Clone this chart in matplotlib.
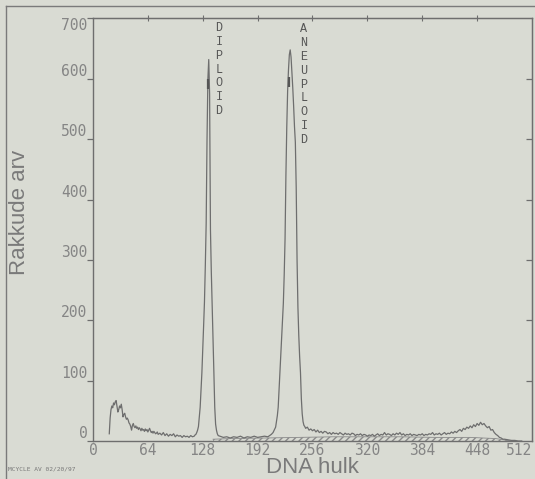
import matplotlib.pyplot as plt
from matplotlib.lines import Line2D

# DNA histogram: channel -> cell count
channels = [19, 20, 21, 22, 23, 24, 25, 26, 27, 28, 29, 30, 31, 32, 33, 34, 35, 36, 37, 38,
            39, 40, 41, 42, 43, 44, 45, 46, 47, 48, 49, 50, 51, 52, 53, 54, 55, 56, 57, 58,
            59, 60, 61, 62, 63, 64, 65, 66, 67, 68, 69, 70, 71, 72, 73, 74, 75, 76, 78, 80,
            82, 84, 86, 88, 90, 92, 94, 96, 98, 100, 102, 104, 106, 108, 110, 112, 114, 116, 118, 119,
            120, 121, 122, 123, 124, 125, 126, 127, 128, 129, 130, 131, 132, 133, 134, 135, 136, 137, 138, 139,
            140, 141, 142, 143, 144, 145, 146, 148, 152, 156, 160, 164, 168, 172, 176, 180, 184, 188, 192, 196,
            200, 204, 206, 208, 210, 211, 212, 213, 214, 215, 216, 217, 218, 219, 220, 221, 222, 223, 224, 225,
            226, 227, 228, 229, 230, 231, 232, 233, 234, 235, 236, 237, 238, 239, 240, 241, 242, 243, 244, 245,
            246, 247, 248, 250, 252, 254, 256, 258, 260, 262, 264, 266, 268, 270, 272, 274, 276, 278, 280, 282,
            284, 286, 288, 290, 292, 294, 296, 298, 300, 302, 304, 306, 308, 310, 312, 314, 316, 318, 320, 322,
            324, 326, 328, 330, 332, 334, 336, 338, 340, 342, 344, 346, 348, 350, 352, 354, 356, 358, 360, 362,
            364, 366, 368, 370, 372, 374, 376, 378, 380, 382, 384, 386, 388, 390, 392, 394, 396, 398, 400, 402,
            404, 406, 408, 410, 412, 414, 416, 418, 420, 422, 424, 426, 428, 430, 432, 434, 436, 438, 440, 442,
            444, 446, 448, 450, 452, 454, 456, 458, 460, 462, 464, 466, 468, 470, 472, 474, 476, 478, 480, 484,
            488, 492, 496, 500]
counts = [12, 38, 52, 58, 55, 63, 60, 65, 67, 58, 48, 52, 58, 55, 61, 52, 40, 44, 46, 40,
          36, 38, 35, 30, 28, 24, 18, 26, 29, 24, 22, 25, 21, 23, 19, 22, 20, 17, 21, 18,
          19, 16, 20, 17, 19, 15, 18, 21, 17, 14, 16, 13, 16, 14, 12, 13, 15, 11, 13, 10,
          14, 9, 12, 8, 11, 9, 12, 7, 10, 8, 9, 6, 9, 7, 8, 6, 9, 7, 8, 10,
          11, 14, 18, 24, 40, 56, 85, 113, 150, 190, 230, 290, 360, 500, 600, 632, 575, 350, 280, 222,
          168, 113, 56, 28, 18, 12, 9, 8, 6, 7, 5, 7, 6, 8, 5, 7, 6, 8, 6, 7,
          8, 7, 9, 11, 14, 17, 20, 23, 32, 42, 56, 85, 113, 140, 170, 198, 228, 275, 335, 440,
          520, 580, 615, 640, 648, 636, 612, 585, 555, 521, 495, 420, 300, 222, 175, 140, 113, 70, 45, 32,
          26, 24, 21, 23, 18, 20, 17, 19, 15, 18, 14, 16, 13, 16, 15, 12, 14, 11, 14, 12,
          13, 11, 14, 12, 10, 13, 11, 12, 10, 13, 12, 9, 11, 10, 12, 9, 11, 10, 8, 10,
          9, 11, 8, 10, 12, 9, 11, 10, 14, 10, 12, 11, 9, 12, 10, 13, 11, 14, 10, 12,
          9, 11, 10, 12, 9, 11, 10, 9, 11, 10, 12, 9, 11, 10, 12, 11, 14, 10, 12, 11,
          13, 10, 12, 14, 11, 13, 12, 15, 13, 16, 14, 17, 19, 16, 21, 19, 23, 21, 25, 22,
          27, 24, 29, 26, 31, 27, 29, 25, 22, 24, 18, 19, 14, 11, 9, 6, 5, 3, 3, 2,
          1, 1, 0, 0]

# fitted S-phase band under the histogram
sphase_ch = [140, 160, 200, 240, 280, 320, 360, 400, 440, 470, 488]
sphase_top = [3, 4, 5, 6, 7, 7, 7, 6, 6, 4, 0]

# fitted peak tops
fit_ch = [134, 229]
fit_top = [592, 594]

x_ticks = [0, 64, 128, 192, 256, 320, 384, 448, 512]
y_ticks = [0, 100, 200, 300, 400, 500, 600, 700]

bg = '#d9dbd3'
ink = '#6e6e6e'
txt = '#858585'

fig = plt.figure(figsize=(5.35, 4.79), dpi=100, facecolor=bg)
ax = fig.add_axes([0.1738, 0.0793, 0.8206, 0.8821], facecolor=bg)

ax.fill_between(sphase_ch, 0, sphase_top, facecolor='none', edgecolor='#8a8a8a',
                hatch='/////', linewidth=0)
ax.plot(sphase_ch, sphase_top, color='#8a8a8a', lw=0.6)
ax.plot(channels, counts, color=ink, lw=0.9)
ax.plot(fit_ch, fit_top, ls='none', marker='|', ms=7, mew=1.6, color='#555555')

ax.set_xlim(0, 512)
ax.set_ylim(0, 700)
for s in ax.spines.values():
    s.set_color(ink)
    s.set_linewidth(1.0)

mono = 'DejaVu Sans Mono'
ax.set_xticks(x_ticks)
ax.set_xticklabels([str(v) for v in x_ticks], fontfamily=mono, fontsize=10.5, color=txt)
ax.set_yticks(y_ticks)
ax.set_yticklabels([str(v) for v in y_ticks], fontfamily=mono, fontsize=10.5, color=txt)
ax.tick_params(axis='x', length=0, pad=1.5)
ax.tick_params(axis='y', direction='out', length=4, width=0.9, color=ink, pad=0)
for lbl in ax.get_yticklabels():
    lbl.set_verticalalignment('bottom')
ax.get_yticklabels()[-1].set_verticalalignment('top')
ax.get_xticklabels()[-1].set_horizontalalignment('right')

sec_y = ax.secondary_yaxis('right')
sec_y.set_yticks(y_ticks[1:-1])
sec_y.tick_params(direction='in', length=4, width=0.9, color=ink, labelright=False)
sec_y.spines['right'].set_color(ink)
sec_x = ax.secondary_xaxis('top')
sec_x.set_xticks(x_ticks[1:-1])
sec_x.tick_params(direction='inout', length=4, width=0.8, color=ink, labeltop=False)
sec_x.spines['top'].set_color(ink)

ax.set_xlabel('DNA hulk', fontfamily='Liberation Sans', fontsize=16, color='#7a7a7a', labelpad=-1)
ax.set_ylabel('Rakkude arv', fontfamily='Liberation Sans', fontsize=16, color='#7a7a7a')
ax.yaxis.set_label_coords(-0.143, 0.54)

ax.text(147, 694, '\n'.join('DIPLOID'), fontfamily='Liberation Mono', fontsize=8.5,
        color='#555555', ha='center', va='top', linespacing=1.2)
ax.text(246, 692, '\n'.join('ANEUPLOID'), fontfamily='Liberation Mono', fontsize=8.5,
        color='#555555', ha='center', va='top', linespacing=1.2)

fig.text(0.015, 0.018, 'MCYCLE AV 02/20/97', fontfamily='DejaVu Sans Mono', fontsize=4.5,
         color='#777777')

# outer border around the printout
fig.add_artist(Line2D([6 / 535, 6 / 535], [0, 1 - 6 / 479], color='#7a7a7a', lw=1.0))
fig.add_artist(Line2D([6 / 535, 1], [1 - 6 / 479, 1 - 6 / 479], color='#7a7a7a', lw=1.0))

fig.savefig('out.png', dpi=100, facecolor=bg)
